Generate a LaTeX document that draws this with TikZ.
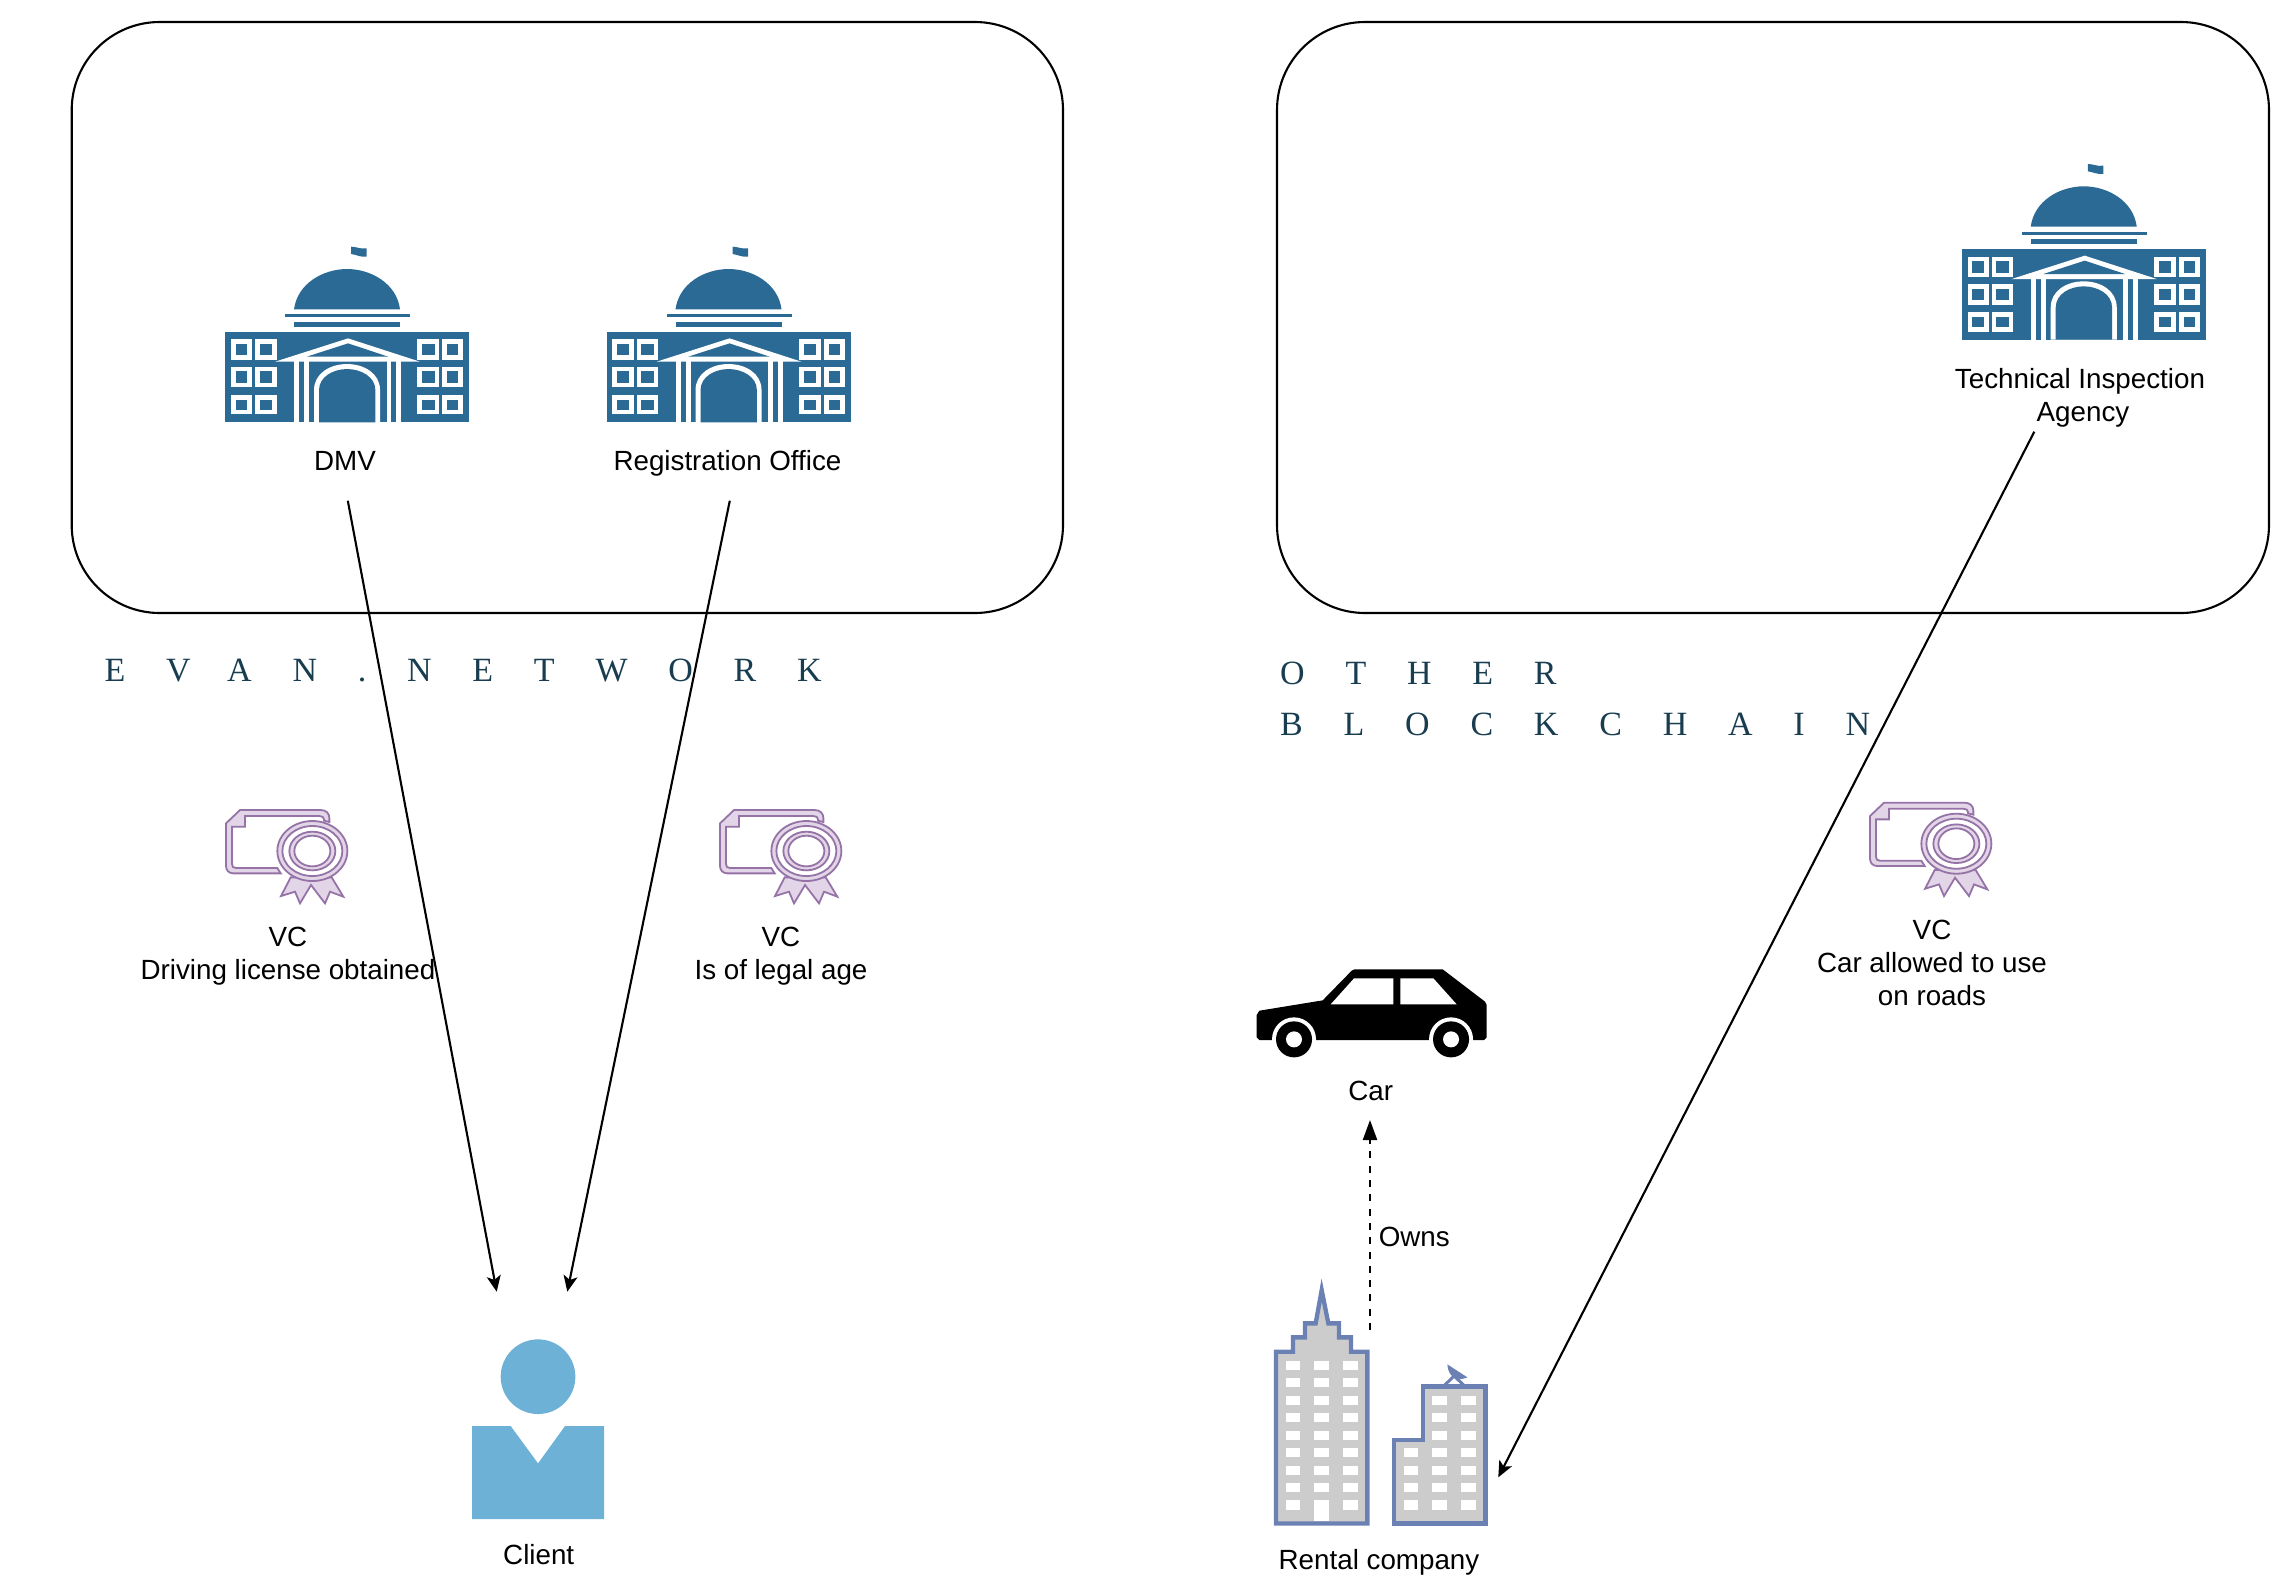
\documentclass[tikz,border=0pt]{standalone}
\usepackage{fontspec}
\setmainfont{Liberation Sans}
\newfontfamily\netfont[LetterSpace=120]{Liberation Serif}
\usepackage{xcolor}
\usetikzlibrary{positioning,arrows.meta}

\definecolor{agencyblue}{HTML}{2C6A96}
\definecolor{netteal}{HTML}{193D50}
\definecolor{vcline}{HTML}{9673A6}
\definecolor{vcfill}{HTML}{E1D5E7}
\definecolor{clientblue}{HTML}{6EB1D6}
\definecolor{rentalline}{HTML}{6C81B3}
\definecolor{rentalfill}{HTML}{CCCCCC}

\tikzset{
  netbox/.style={draw, line width=.6pt, rounded corners=.88cm},
  textlabel/.style={font=\fontsize{7.9}{9.4}\selectfont, align=center, inner sep=0pt},
  netlabel/.style={font=\netfont\fontsize{9.67}{14.4}\selectfont, text=netteal, align=left, inner sep=0pt, anchor=base west},
  link/.style={line width=.6pt, -{Stealth[length=.16cm,width=.14cm,inset=.04cm]}},
  ownslink/.style={line width=.65pt, dash pattern=on .07cm off .073cm, -{Stealth[length=.2cm,width=.14cm,inset=0pt]}},
  pics/agencyicon/.style={code={
    \begin{scope}[x=.09486pt,y=-.09486pt]
    \fill[agencyblue] (453,50) .. controls (470,50) and (480,58) .. (500,55) -- (500,80) .. controls (480,82) and (470,74) .. (453,72) -- cycle;
    \fill[agencyblue] (282,238) .. controls (292,160) and (370,117) .. (441,117) .. controls (512,117) and (590,160) .. (600,238) -- cycle;
    \fill[agencyblue] (255,253) rectangle (630,262);
    \fill[agencyblue] (282,276) rectangle (600,291);
    \fill[agencyblue] (75,305) rectangle (808,577);
    % windows
    \foreach \wa/\wb in {93/156,165/230,652/718,727/789}
      \foreach \wc/\wd in {328/390,410/472,495/553}
        \draw[white, line width=.047cm] (\wa+7,\wc+7) rectangle (\wb-7,\wd-7);
    % pediment
    \fill[white] (225,395) -- (444,325) -- (660,395) -- cycle;
    \fill[agencyblue] (320,380) -- (444,340) -- (565,380) -- cycle;
    % pillars
    \foreach \wa in {283,313,560,589}
      \fill[white] (\wa,390) rectangle (\wa+14,577);
    % arch
    \fill[white] (342,577) -- (342,480) .. controls (342,430) and (390,402) .. (441,402) .. controls (492,402) and (540,430) .. (540,480) -- (540,577) -- cycle;
    \fill[agencyblue] (357,577) -- (357,480) .. controls (357,440) and (400,417) .. (441,417) .. controls (482,417) and (526,440) .. (526,480) -- (526,577) -- cycle;
    \end{scope}
  }},
  pics/vcicon/.style={code={
    \begin{scope}[x=.09486pt,y=-.09486pt,fill=vcfill,draw=vcline,line width=.018cm]
    \filldraw (78,100) -- (120,60) -- (362,60) .. controls (378,60) and (388,70) .. (388,84) -- (388,96) -- (372,92) -- (372,88) .. controls (372,82) and (366,78) .. (358,78) -- (135,78) -- (135,110) -- (96,110) -- (96,222) .. controls (96,230) and (100,234) .. (108,234) -- (232,234) -- (242,250) -- (100,250) .. controls (86,250) and (78,240) .. (78,228) -- cycle;
    \filldraw (272,262) -- (243,318) -- (285,305) -- (300,340) -- (333,285) -- (375,340) -- (390,305) -- (430,320) -- (395,262) -- cycle;
    \filldraw (337,183) ellipse (105 and 90);
    \filldraw[fill=white] (337,183) ellipse (90 and 75);
    \filldraw (337,183) ellipse (69 and 58);
    \filldraw[fill=white] (337,183) ellipse (54 and 46);
    \end{scope}
  }},
  pics/clienticon/.style={code={
    \begin{scope}[x=.09486pt,y=-.09486pt]
    \fill[clientblue] (294,170) circle (112);
    \fill[clientblue] (96,318) -- (212,318) -- (294,430) -- (375,318) -- (492,318) -- (492,597) -- (96,597) -- cycle;
    \end{scope}
  }},
  pics/caricon/.style={code={
    \begin{scope}[x=.09486pt,y=-.09486pt]
    \fill[black] (50,195) -- (58,182) -- (248,151) -- (335,62) -- (343,58) -- (608,58) -- (735,155) -- (740,165) -- (740,262) -- (732,270) -- (58,270) -- (50,262) -- cycle;
    \fill[white] (272,163) -- (342,85) -- (460,85) -- (460,163) -- cycle;
    \fill[white] (481,85) -- (580,85) -- (650,163) -- (481,163) -- cycle;
    \foreach \wa in {162,633} {
      \fill[white] (\wa,268) circle (66);
      \fill[black] (\wa,268) circle (54);
      \fill[white] (\wa,268) circle (24);
    }
    \end{scope}
  }},
  pics/rentalicon/.style={code={
    \begin{scope}[x=.09486pt,y=-.09486pt]
    % tall building
    \filldraw[fill=rentalfill, draw=rentalline, line width=.043cm, miter limit=10] (78,760) -- (78,245) -- (129,245) -- (129,202) -- (165,202) -- (165,160) -- (197,160) -- (215,60) -- (235,160) -- (267,160) -- (267,202) -- (303,202) -- (303,245) -- (352,245) -- (352,760) -- cycle;
    \foreach \wa in {107,193,280}
      \foreach \wc in {272,324,377,429,482,534,587,639,691}
        \fill[white] (\wa,\wc) rectangle (\wa+44,\wc+28);
    \fill[white] (193,691) rectangle (238,752);
    % low building
    \filldraw[fill=rentalfill, draw=rentalline, line width=.043cm] (432,760) -- (432,510) -- (518,510) -- (518,349) -- (706,349) -- (706,760) -- cycle;
    \foreach \wa in {547,634}
      \foreach \wc in {377,429,482,534,587,639,691}
        \fill[white] (\wa,\wc) rectangle (\wa+44,\wc+28);
    \foreach \wc in {534,587,639,691}
      \fill[white] (461,\wc) rectangle (461+44,\wc+28);
    % dish
    \fill[rentalline] (592,283) -- (652,322) .. controls (630,332) and (595,330) .. (592,283) -- cycle;
    \draw[rentalline, line width=.03cm] (585,344) -- (612,318) -- (640,344);
    \end{scope}
  }},
}

\begin{document}
\begin{tikzpicture}
\useasboundingbox (0,0) rectangle (22.94,-15.90);

% network boxes
\draw[netbox] (.717,-.22) rectangle (10.63,-6.13);
\draw[netbox] (12.77,-.22) rectangle (22.69,-6.13);

% network names
\node[netlabel] (evan) at (1.04,-6.813) {EVAN.NETWORK};
\node[netlabel] (other) at (12.795,-7.35) {OTHER\\BLOCKCHAIN};

% icons
\pic at (2,-2.3) {agencyicon};
\pic at (5.815,-2.3) {agencyicon};
\pic at (19.367,-1.473) {agencyicon};
\pic at (2,-7.9) {vcicon};
\pic at (6.94,-7.9) {vcicon};
\pic at (18.44,-7.827) {vcicon};
\pic at (4.4,-13.2) {clienticon};
\pic at (12.4,-9.5) {caricon};
\pic at (12.5,-12.7) {rentalicon};

% agency labels
\node[textlabel, minimum height=.786cm] (dmv) at (3.45,-4.607) {DMV};
\node[textlabel, minimum height=.726cm] (regoffice) at (7.275,-4.637) {Registration Office};
\node[textlabel, minimum height=.66cm] (inspection) at (20.8,-3.98) {Technical Inspection\\\hspace*{.06cm}Agency};

% credentials
\node[textlabel] (vclicense) at (2.88,-9.565) {VC\\Driving license obtained};
\node[textlabel] (vcage) at (7.81,-9.565) {VC\\Is of legal age};
\node[textlabel] (vcroads) at (19.32,-9.63) {VC\\Car allowed to use\\on roads};

% holders
\node[textlabel] (client) at (5.387,-15.545) {Client};
\node[textlabel, minimum height=.572cm] (car) at (13.707,-10.907) {Car};
\node[textlabel] (rental) at (13.79,-15.623) {Rental company};
\node[textlabel] (owns) at (14.143,-12.37) {Owns};

% free arrow ends
\coordinate (clientl) at (4.967,-12.917);
\coordinate (clientr) at (5.673,-12.917);
\coordinate (rentalr) at (14.983,-14.773);
\coordinate (rentalt) at (13.70,-13.30);

% issued credentials
\draw[link] ([xshift=.028cm]dmv.south) -- (clientl);
\draw[link] ([xshift=.023cm]regoffice.south) -- (clientr);
\draw[link] ([xshift=-.457cm]inspection.south) -- (rentalr);
\draw[ownslink] (rentalt) -- (rentalt |- car.south);
\end{tikzpicture}
\end{document}
